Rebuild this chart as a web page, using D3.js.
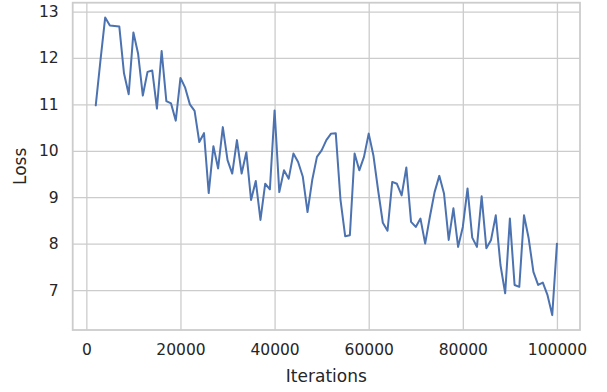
<!DOCTYPE html>
<html>
<head>
<meta charset="utf-8">
<script src="https://cdn.jsdelivr.net/npm/d3@7"></script>
<style>
  body { margin: 0; background: #fff; }
  #chart text { font-family: 'DejaVu Sans', sans-serif; fill: #262626; }
</style>
</head>
<body>
<div id="chart"></div>
<script>
'use strict'
// iterations (x) and loss (y)
let iterations = [];
for (let it = 2000; it <= 100000; it += 1000) iterations.push(it);
let loss = [
  10.98, 11.95, 12.87, 12.70, 12.69, 12.68, 11.67, 11.22, 12.55, 12.09,
  11.19, 11.70, 11.73, 10.91, 12.15, 11.07, 11.02, 10.65, 11.57, 11.36,
  11.00, 10.86, 10.19, 10.38, 9.09, 10.10, 9.62, 10.51, 9.80, 9.51,
  10.23, 9.51, 9.97, 8.94, 9.35, 8.51, 9.29, 9.17, 10.87, 9.11,
  9.58, 9.40, 9.94, 9.76, 9.44, 8.68, 9.37, 9.87, 10.01, 10.23,
  10.37, 10.38, 8.95, 8.16, 8.18, 9.94, 9.58, 9.87, 10.37, 9.90,
  9.15, 8.45, 8.28, 9.33, 9.29, 9.04, 9.64, 8.47, 8.36, 8.54,
  8.00, 8.58, 9.11, 9.46, 9.08, 8.08, 8.76, 7.93, 8.36, 9.19,
  8.13, 7.93, 9.02, 7.90, 8.08, 8.61, 7.54, 6.93, 8.54, 7.11,
  7.07, 8.61, 8.11, 7.39, 7.11, 7.16, 6.89, 6.46, 8.00
];
let xTicks = [0, 20000, 40000, 60000, 80000, 100000];
let yTicks = [7, 8, 9, 10, 11, 12, 13];

let data = iterations.map(function(d, i) { return {it: d, loss: loss[i]}; });

let margin = {top: 2.7, right: 27, bottom: 62, left: 72.7}
  , W = 607, H = 392
  , width = W - margin.left - margin.right
  , height = H - margin.top - margin.bottom;

// matplotlib style 5% padding
let xExt = d3.extent(iterations), yExt = d3.extent(loss);
let xPad = (xExt[1] - xExt[0]) * 0.05, yPad = (yExt[1] - yExt[0]) * 0.05;

let x = d3.scaleLinear()
  .domain([xExt[0] - xPad, xExt[1] + xPad])
  .range([0, width]);
let y = d3.scaleLinear()
  .domain([yExt[0] - yPad, yExt[1] + yPad])
  .range([height, 0]);

let svg = d3.select('#chart')
  .append('svg')
  .attr('width', W)
  .attr('height', H);
let g = svg.append('g')
  .attr('transform', 'translate(' + margin.left + ',' + margin.top + ')');

// grid
let xAxis = d3.axisBottom(x).tickValues(xTicks).tickFormat(d3.format('d'))
  .tickSize(-height).tickPadding(14);
let yAxis = d3.axisLeft(y).tickValues(yTicks).tickFormat(d3.format('d'))
  .tickSize(-width).tickPadding(14);

let xAxisGroup = g.append('g')
  .attr('transform', 'translate(0,' + height + ')')
  .call(xAxis);
let yAxisGroup = g.append('g')
  .call(yAxis);

[xAxisGroup, yAxisGroup].forEach(function(ax) {
  ax.select('.domain').remove();
  ax.selectAll('.tick line')
    .attr('stroke', '#cccccc')
    .attr('stroke-width', 1.3);
  ax.selectAll('.tick text')
    .attr('font-size', '15.5px');
});

// frame
g.append('rect')
  .attr('width', width)
  .attr('height', height)
  .attr('fill', 'none')
  .attr('stroke', '#cccccc')
  .attr('stroke-width', 1.8);

let line = d3.line()
  .x(function(d) { return x(d.it); })
  .y(function(d) { return y(d.loss); });

g.append('path')
  .datum(data)
  .attr('d', line)
  .attr('fill', 'none')
  .attr('stroke', '#4c72b0')
  .attr('stroke-width', 2)
  .attr('stroke-linejoin', 'round')
  .attr('stroke-linecap', 'round');

// axis labels
svg.append('text')
  .attr('x', margin.left + width / 2)
  .attr('y', 382)
  .attr('text-anchor', 'middle')
  .attr('font-size', '17px')
  .text('Iterations');

svg.append('text')
  .attr('transform', 'translate(26,' + (margin.top + height / 2) + ') rotate(-90)')
  .attr('text-anchor', 'middle')
  .attr('font-size', '17px')
  .text('Loss');
</script>
</body>
</html>
